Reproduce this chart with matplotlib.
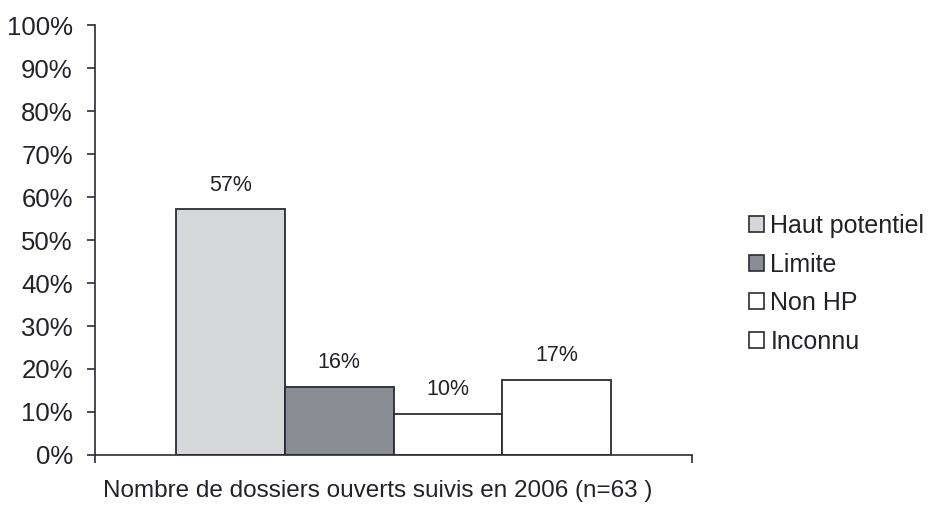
import numpy as np
import matplotlib.pyplot as plt
from matplotlib.patches import Patch

# values (n=63)
categories = ["Haut potentiel", "Limite", "Non HP", "Inconnu"]
values = [57.1, 15.9, 9.5, 17.5]
value_labels = ["57%", "16%", "10%", "17%"]
y_ticks = list(range(0, 101, 10))
y_tick_labels = [f"{t}%" for t in y_ticks]
x_title = "Nombre de dossiers ouverts suivis en 2006 (n=63 )"

plt.rcParams["font.family"] = ["Liberation Sans", "DejaVu Sans"]

fill_colors = ["#d5d7d9", "#8b8d95", "#ffffff", "#ffffff"]
edge = "#2b2b36"
txt = "#22222c"

fig = plt.figure(figsize=(9.34, 5.07), dpi=100)
ax = fig.add_axes([0.1017, 0.1026, 0.6393, 0.848])

x = np.arange(len(values))
bars = ax.bar(x, values, width=1.0, color=fill_colors, edgecolor=edge, linewidth=1.3)

for b, lab in zip(bars, value_labels):
    ax.annotate(lab, (b.get_x() + b.get_width() / 2, b.get_height()),
                xytext=(0, 10), textcoords="offset points",
                ha="center", va="bottom", fontsize=15.5, color=txt)

ax.set_xlim(-1.25, 4.25)
ax.set_ylim(0, 100)
ax.set_yticks(y_ticks)
ax.set_yticklabels(y_tick_labels)
ax.set_xticks([-1.25, 4.25])
ax.set_xticklabels(["", ""])
ax.tick_params(axis="y", labelsize=18.5, colors=edge, labelcolor=txt, length=6, width=1.2, pad=10)
ax.tick_params(axis="x", colors=edge, length=6, width=1.2)
ax.set_xlabel(x_title, fontsize=17.5, color=txt, va="center")
ax.xaxis.set_label_coords(0.474, -0.083)

for s in ["top", "right"]:
    ax.spines[s].set_visible(False)
for s in ["left", "bottom"]:
    ax.spines[s].set_color(edge)
    ax.spines[s].set_linewidth(1.2)

handles = [Patch(facecolor=c, edgecolor=edge, linewidth=1.2) for c in fill_colors]
fig.legend(handles, categories, loc="center left", bbox_to_anchor=(0.802, 0.44),
           frameon=False, fontsize=18, handlelength=0.6, handleheight=0.6,
           handletextpad=0.25, labelspacing=0.58, labelcolor=txt,
           borderaxespad=0, borderpad=0)

fig.savefig("out.png", dpi=100)
